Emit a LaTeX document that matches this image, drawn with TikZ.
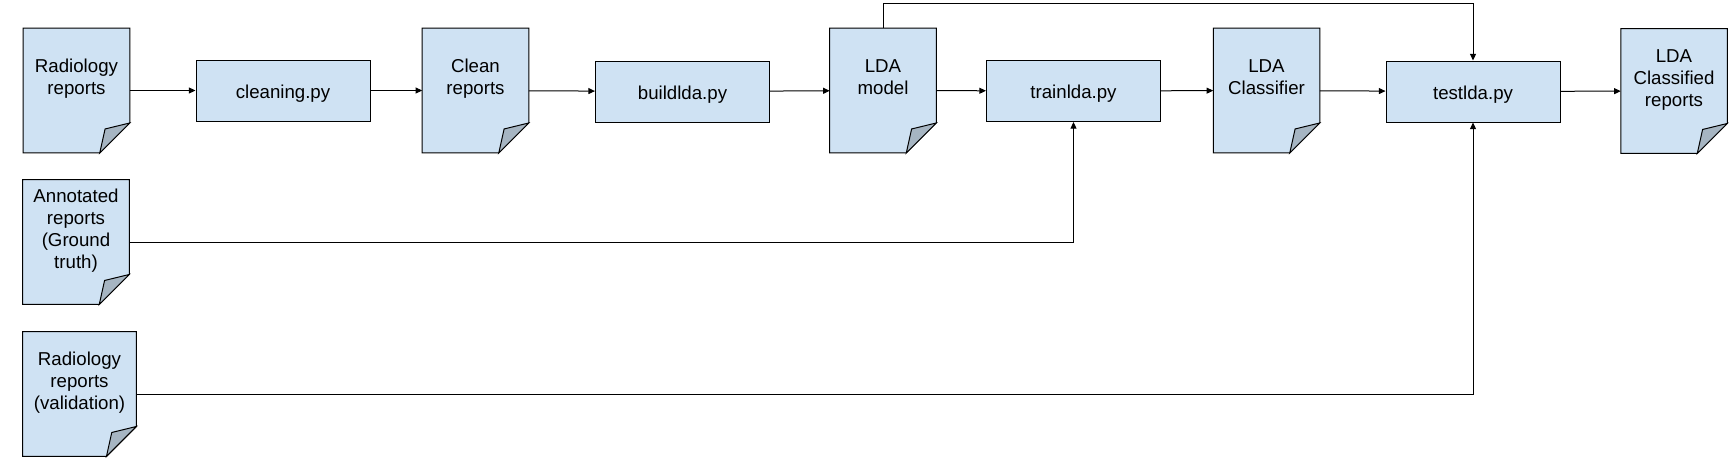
\documentclass[tikz,border=0pt]{standalone}
\usepackage{fontspec}
\setmainfont{Liberation Sans}
\usepackage{tikz}
\usetikzlibrary{arrows.meta,backgrounds}
\definecolor{docfill}{RGB}{207,226,243}
\definecolor{foldfill}{RGB}{166,181,194}
% text of a sheet, lifted above the folded corner
\newcommand{\doctext}[1]{\begin{tabular}{@{}c@{}}#1\\[17pt]\end{tabular}}
\tikzset{
    proc/.style={
           rectangle,
           draw=black, line width=0.75pt,
           fill=docfill,
           minimum width=130.5pt,
           minimum height=45.75pt,
           inner sep=0pt,
           text height=14pt, text depth=2.4pt,
           font=\fontsize{14}{16.5}\selectfont},
    doc/.style={
           rectangle,
           minimum width=79.5pt,
           minimum height=93.3pt,
           inner sep=0pt,
           font=\fontsize{14}{16.5}\selectfont},
    flow/.style={-{Triangle[length=5pt,width=4.5pt]}, line width=0.75pt, black}
    }
\begin{document}
\begin{tikzpicture}[x=0.75pt,y=-0.75pt]
      \useasboundingbox (0,0) rectangle (1730,475);
      \node[doc] (raw) at (76.5,90.5) {\doctext{Radiology\\reports}};
      \node[proc] (cleaning) at (283,90.5) {cleaning.py};
      \node[doc] (clean) at (475.5,90.5) {\doctext{Clean\\reports}};
      \node[proc] (build) at (682.5,91.5) {buildlda.py};
      \node[doc] (model) at (883,90.5) {\doctext{LDA\\model}};
      \node[proc] (train) at (1073.5,91) {trainlda.py};
      \node[doc] (clf) at (1266.5,90.5) {\doctext{LDA\\Classifier}};
      \node[proc] (test) at (1473,91.5) {testlda.py};
      \node[doc] (result) at (1674,91) {\doctext{LDA\\Classified\\reports}};
      \node[doc] (truth) at (76,242) {\doctext{Annotated\\reports\\(Ground\\truth)}};
      \node[doc, minimum width=85pt] (valid) at (79.5,394) {\doctext{Radiology\\reports\\(validation)}};

      % paper sheets with folded corner
      \begin{scope}[on background layer]
      \foreach \n in {raw,clean,model,clf,result,truth,valid} {
        \draw[fill=docfill, line width=0.75pt] (\n.north west) -- (\n.north east)
          -- ([yshift=22.5pt]\n.south east) -- ([xshift=-22.5pt]\n.south east)
          -- (\n.south west) -- cycle;
        \draw[fill=foldfill, line width=0.75pt] ([yshift=22.5pt]\n.south east)
          -- ([xshift=-18.5pt,yshift=18pt]\n.south east)
          -- ([xshift=-22.5pt]\n.south east) -- cycle;
      }
      \end{scope}

      \draw[flow] (raw) -- (cleaning);
      \draw[flow] (cleaning) -- (clean);
      \draw[flow] (clean) -- (build);
      \draw[flow] (build) -- (model);
      \draw[flow] (model) -- (train);
      \draw[flow] (train) -- (clf);
      \draw[flow] (clf) -- (test);
      \draw[flow] (test) -- (result);
      \draw[flow] (model.north) -- ++(0,-25) -| (test.north);
      \draw[flow] (truth) -| (train.south);
      \draw[flow] (valid) -| (test.south);
\end{tikzpicture}
\end{document}
